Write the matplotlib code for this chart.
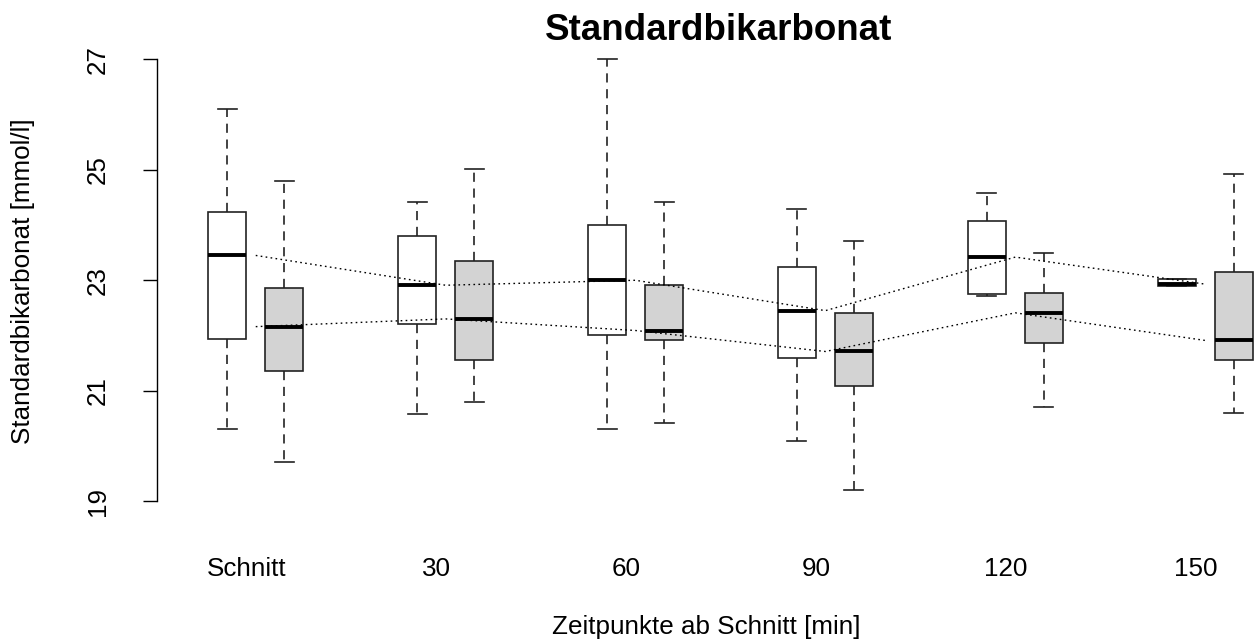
import numpy as np
import matplotlib
matplotlib.use('Agg')
import matplotlib.pyplot as plt

plt.rcParams['font.family'] = ['Liberation Sans', 'DejaVu Sans']

# time points
labels = ['Schnitt', '30', '60', '90', '120', '150']

# first group (white boxes)
white_lo = [20.30, 20.58, 20.30, 20.09, 22.72, 22.90]
white_q1 = [21.94, 22.21, 22.01, 21.59, 22.76, 22.90]
white_med = [23.45, 22.91, 23.00, 22.45, 23.42, 22.93]
white_q3 = [24.24, 23.80, 24.01, 23.24, 24.07, 23.02]
white_hi = [26.10, 24.42, 27.00, 24.30, 24.59, 23.02]

# second group (grey boxes)
grey_lo = [19.70, 20.80, 20.41, 19.20, 20.71, 20.59]
grey_q1 = [21.36, 21.56, 21.92, 21.09, 21.86, 21.56]
grey_med = [22.16, 22.30, 22.09, 21.71, 22.41, 21.91]
grey_q3 = [22.86, 23.35, 22.91, 22.41, 22.77, 23.15]
grey_hi = [24.80, 25.01, 24.42, 23.71, 23.50, 24.92]

yticks = [19, 21, 23, 25, 27]


def stats(lo, q1, med, q3, hi):
	return [dict(whislo=a, q1=b, med=c, q3=d, whishi=e, fliers=[])
			for a, b, c, d, e in zip(lo, q1, med, q3, hi)]


fig = plt.figure(figsize=(12.54, 6.43), dpi=100)
ax = fig.add_axes([0.1252, 0.1882, 0.8748, 0.7496])

g = np.arange(1, len(labels) + 1)

for st, pos, fc in [(stats(white_lo, white_q1, white_med, white_q3, white_hi), g, 'white'),
					(stats(grey_lo, grey_q1, grey_med, grey_q3, grey_hi), g + 0.3, '#d3d3d3')]:
	ax.bxp(st, positions=pos, widths=0.2, capwidths=0.1, patch_artist=True,
		   showfliers=False,
		   boxprops=dict(facecolor=fc, edgecolor='#222222', linewidth=1.2),
		   medianprops=dict(color='black', linewidth=2.8, solid_capstyle='butt'),
		   whiskerprops=dict(color='#222222', linewidth=1.2, linestyle=(0, (5.5, 4))),
		   capprops=dict(color='#222222', linewidth=1.2))

# dotted lines through the medians
ax.plot(g + 0.15, white_med, color='black', lw=1.0, linestyle=(0, (1.2, 2.4)))
ax.plot(g + 0.15, grey_med, color='black', lw=1.0, linestyle=(0, (1.2, 2.4)))

ax.set_xlim(0.630, 6.407)
ax.set_ylim(18.621, 27.353)

for s in ['top', 'right', 'bottom']:
	ax.spines[s].set_visible(False)
ax.spines['left'].set_bounds(19, 27)
ax.spines['left'].set_linewidth(1.0)

ax.set_yticks(yticks)
ax.set_yticklabels([str(v) for v in yticks], rotation=90, va='center', fontsize=18.7)
ax.tick_params(axis='y', length=10, width=1.0, pad=24)

ax.set_xticks(g + 0.1)
ax.set_xticklabels(labels, fontsize=18.7)
ax.tick_params(axis='x', length=0, pad=25)

fig.text(23 / 1254, 1 - 281 / 643, 'Standardbikarbonat [mmol/l]', rotation=90,
		 ha='center', va='center', fontsize=18.7)
fig.text(706 / 1254, 1 - 627 / 643, 'Zeitpunkte ab Schnitt [min]',
		 ha='center', va='center', fontsize=18.7)
fig.text(719 / 1254, 1 - 31 / 643, 'Standardbikarbonat', ha='center', va='center',
		 fontsize=26.5, fontweight='bold')

fig.savefig('out.png', dpi=100)
